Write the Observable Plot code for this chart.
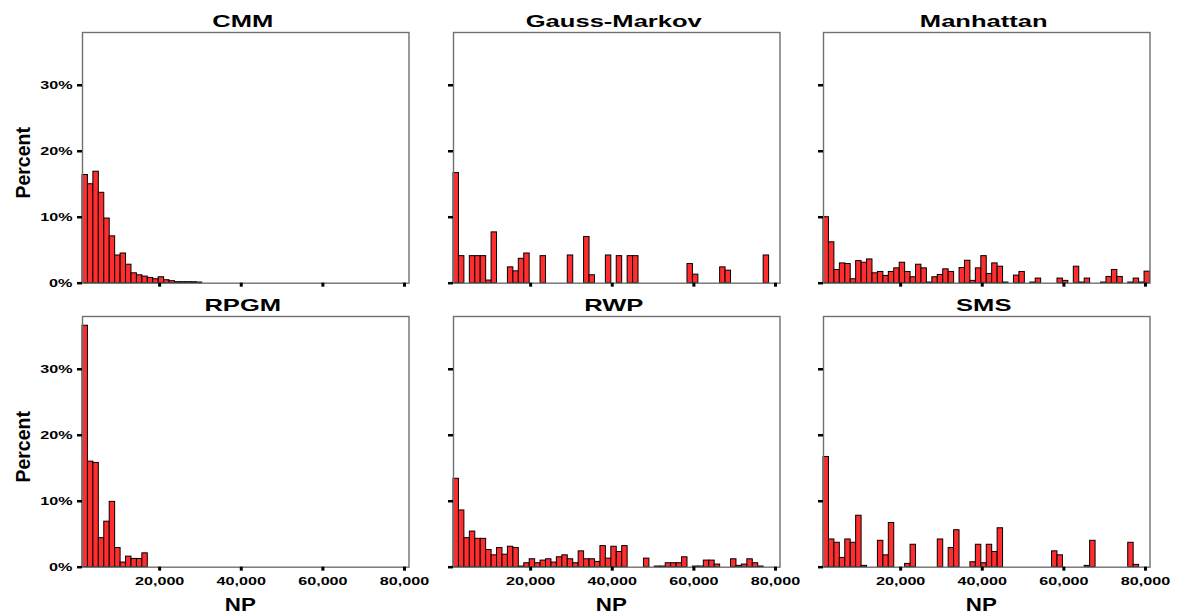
<!DOCTYPE html>
<html><head><meta charset="utf-8">
<script src="https://cdn.jsdelivr.net/npm/d3@7"></script>
<script src="https://cdn.jsdelivr.net/npm/@observablehq/plot@0.6"></script>
<style>
body{margin:0;background:#fff;font-family:"Liberation Sans",Arial,sans-serif;}
#chart{position:relative;width:1178px;height:616px;overflow:hidden;background:#fff;}
#chart svg{position:absolute;}
</style></head><body><div id="chart"></div>
<script>
// ---- data ----
const models = ["CMM", "Gauss-Markov", "Manhattan", "RPGM", "RWP", "SMS"];
const npStart = 1100, npEnd = 81100;           // histogram range of NP (60 equal bins)
const xTickValues = [20000, 40000, 60000, 80000];
const yTickValues = [0, 10, 20, 30];
const yMax = 38;

const pctCMM = [16.4,15.0,16.9,13.7,9.8,7.1,4.2,4.5,2.8,1.5,
  1.2,1.0,0.8,0.6,0.9,0.45,0.3,0.15,0.15,0.15,
  0.15,0.1,0,0,0,0,0,0,0,0,
  0,0,0,0,0,0,0,0,0,0,
  0,0,0,0,0,0,0,0,0,0,
  0,0,0,0,0,0,0,0,0,0];
const pctGaussMarkov = [16.7,4.1,0,4.1,4.1,4.1,0.4,7.7,0,0,
  2.4,1.8,3.7,4.5,0,0,4.1,0,0,0,
  0,4.2,0,0,7.0,1.2,0,0,4.2,0,
  4.1,0,4.1,4.1,0,0,0,0,0,0,
  0,0,0,2.9,1.3,0,0,0,0,2.4,
  1.9,0,0,0,0,0,0,4.2,0,0];
const pctManhattan = [10.0,6.2,2.0,3.0,2.9,0.6,3.35,3.1,3.6,1.5,
  1.7,1.1,1.7,2.25,3.1,1.7,0.9,2.8,2.25,0.1,
  0.9,1.25,2.1,1.7,0,2.3,3.4,0.35,2.25,4.1,
  1.4,3.0,2.5,0.1,0,1.15,1.7,0,0.1,0.7,
  0,0,0,0.7,0.35,0,2.5,0.1,0.7,0,
  0,0.1,0.95,2.0,0.95,0,0.1,0.7,0.1,1.75];
const pctRPGM = [36.6,16.0,15.8,4.4,6.9,9.9,2.9,0.7,1.6,1.25,
  1.25,2.1,0,0,0,0,0,0,0,0,
  0,0,0,0,0,0,0,0,0,0,
  0,0,0,0,0,0,0,0,0,0,
  0,0,0,0,0,0,0,0,0,0,
  0,0,0,0,0,0,0,0,0,0];
const pctRWP = [13.4,8.6,4.4,5.4,4.3,4.3,2.6,1.8,2.9,1.9,
  3.1,2.9,0.1,0.6,1.2,0.6,1.0,1.2,0.7,1.5,
  1.8,1.2,0.6,2.4,1.2,1.2,0.8,3.2,1.3,3.1,
  2.3,3.2,0,0,0,1.3,0,0.1,0.1,0.6,
  0.6,0.6,1.5,0,0.1,0.1,1.0,1.0,0.4,0,
  0,1.2,0.2,0.4,1.2,0.6,0.1,0,0,0];
const pctSMS = [16.7,4.2,3.7,1.4,4.2,3.7,7.8,0.2,0,0,
  4.0,1.8,6.7,0,0,0.5,3.4,0,0,0,
  0,4.2,0,2.9,5.6,0,0,0.75,3.4,0.6,
  3.4,2.3,5.9,0,0,0,0,0,0,0,
  0,0,2.4,1.8,0,0,0,0,0.2,4.0,
  0,0,0,0,0,0,3.7,0.35,0,0];
const series = [pctCMM, pctGaussMarkov, pctManhattan, pctRPGM, pctRWP, pctSMS];

// ---- layout ----
const chart = document.getElementById("chart");
const frameW = 326.5, frameH = 250.7;
const colLeft = [81.7, 452.6, 822.7], rowTop = [32, 316];
const mL = 82, mR = 16, mT = 34, mB = 50;
const fontFamily = "'Liberation Sans', Arial, Helvetica, sans-serif";

models.forEach((name, k) => {
  const col = k % 3, row = Math.floor(k / 3);
  const vals = series[k];
  const bw = (npEnd - npStart) / vals.length;
  const bins = vals.map((pct, i) => ({lo: npStart + i * bw, hi: npStart + (i + 1) * bw, pct}))
                   .filter(d => d.pct > 0);
  const marks = [
    Plot.rectY(bins, {x1: "lo", x2: "hi", y: "pct", fill: "#ff2d2d", stroke: "#000", strokeWidth: 1}),
    Plot.frame({stroke: "#707070", strokeWidth: 1.4}),
    Plot.axisY({ticks: yTickValues, tickSize: 5, tickPadding: 5, strokeWidth: 2.5,
      tickFormat: col === 0 ? d => d + "%" : () => "", fontSize: 11, fontWeight: "bold", label: null}),
    Plot.axisX({ticks: xTickValues, tickSize: 4, tickPadding: 6, strokeWidth: 3,
      tickFormat: row === 1 ? d3.format(",") : () => "", fontSize: 11, fontWeight: "bold", label: null}),
    Plot.text([name], {text: d => d, frameAnchor: "top", dx: -3, dy: row === 0 ? -11 : -10.5,
      lineAnchor: "middle", textAnchor: "middle", fontSize: 16.5, fontWeight: "bold"})
  ];
  if (col === 0) marks.push(Plot.text(["Percent"], {text: d => d, frameAnchor: "left", dx: -59.2, dy: 5,
      rotate: -90, textAnchor: "middle", lineAnchor: "middle", fontSize: 19.5, fontWeight: "bold"}));
  if (row === 1) marks.push(Plot.text(["NP"], {text: d => d, frameAnchor: "bottom", dx: -5.5, dy: 38.3,
      lineAnchor: "middle", textAnchor: "middle", fontSize: 18, fontWeight: "bold"}));
  const svg = Plot.plot({
    width: mL + frameW + mR, height: mT + frameH + mB,
    marginLeft: mL, marginRight: mR, marginTop: mT, marginBottom: mB,
    style: {background: "transparent", overflow: "visible", fontFamily, color: "#000"},
    x: {domain: [npStart, npEnd]},
    y: {domain: [0, yMax]},
    marks
  });
  svg.style.left = (colLeft[col] - mL) + "px";
  svg.style.top = (rowTop[row] - mT) + "px";
  chart.appendChild(svg);
});

// stretch text horizontally like the (wide) original rendering
chart.querySelectorAll("text").forEach(t => {
  const s = t.textContent;
  if (!s || s === "Percent") return;
  const f = models.includes(s) ? 1.55 : s === "NP" ? 1.24 : 1.47;
  const len = t.getComputedTextLength();
  if (len > 0) {
    t.setAttribute("textLength", (len * f).toFixed(1));
    t.setAttribute("lengthAdjust", "spacingAndGlyphs");
  }
});
</script></body></html>
